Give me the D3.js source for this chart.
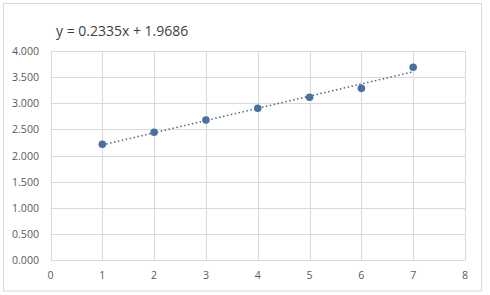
<!DOCTYPE html>
<html>
<head>
<meta charset="utf-8">
<title>Scatter with trendline</title>
<style>
  body { margin: 0; background: #fff; }
  text { font-family: "Segoe UI", "Open Sans", sans-serif; }
</style>
<script src="https://d3js.org/d3.v7.min.js"></script>
</head>
<body>
<svg id="chart" width="490" height="295"></svg>
<script>
var xValues = [1, 2, 3, 4, 5, 6, 7];
var yValues = [2.214, 2.444, 2.679, 2.903, 3.114, 3.285, 3.688];
var xTicks = [0, 1, 2, 3, 4, 5, 6, 7, 8];
var yTicks = [0, 0.5, 1, 1.5, 2, 2.5, 3, 3.5, 4];
var slope = 0.2335;
var intercept = 1.9686;
var equationLabel = "y = 0.2335x + 1.9686";

var svg = d3.select("#chart");

// outer chart border
svg.append("rect")
  .attr("x", 3.5).attr("y", 3.5)
  .attr("width", 478).attr("height", 287.5)
  .attr("fill", "#fff")
  .attr("stroke", "#d9d9d9");

var x = d3.scaleLinear().domain([0, 8]).range([50.5, 465]);
var y = d3.scaleLinear().domain([0, 4]).range([260, 51]);

// gridlines
svg.append("g").selectAll("line").data(yTicks).join("line")
  .attr("x1", x(0)).attr("x2", x(8))
  .attr("y1", d => Math.round(y(d)) + 0.5).attr("y2", d => Math.round(y(d)) + 0.5)
  .attr("stroke", "#d9d9d9");
svg.append("g").selectAll("line").data(xTicks).join("line")
  .attr("x1", d => Math.round(x(d)) + 0.5).attr("x2", d => Math.round(x(d)) + 0.5)
  .attr("y1", y(0)).attr("y2", y(4))
  .attr("stroke", "#d9d9d9");

// tick labels
svg.append("g").selectAll("text").data(yTicks).join("text")
  .attr("x", 39).attr("y", d => y(d) + 4)
  .attr("text-anchor", "end")
  .attr("font-size", 10.6)
  .attr("fill", "#595959")
  .text(d => d3.format(".3f")(d));
svg.append("g").selectAll("text").data(xTicks).join("text")
  .attr("x", d => x(d)).attr("y", 279)
  .attr("text-anchor", "middle")
  .attr("font-size", 10.6)
  .attr("fill", "#595959")
  .text(d => d);

// trendline
var trend = d3.line().x(d => x(d)).y(d => y(slope * d + intercept));
svg.append("path")
  .attr("d", trend([xValues[0], xValues[xValues.length - 1]]))
  .attr("fill", "none")
  .attr("stroke", "#4a6a8a")
  .attr("stroke-width", 1.5)
  .attr("stroke-dasharray", "1.5,2.5");

// points
svg.append("g").selectAll("circle").data(xValues).join("circle")
  .attr("cx", d => x(d))
  .attr("cy", (d, i) => y(yValues[i]))
  .attr("r", 3.8)
  .attr("fill", "#4a70a3");

// equation
svg.append("text")
  .attr("x", 56).attr("y", 36)
  .attr("font-size", 14)
  .attr("fill", "#404040")
  .text(equationLabel);
</script>
</body>
</html>
